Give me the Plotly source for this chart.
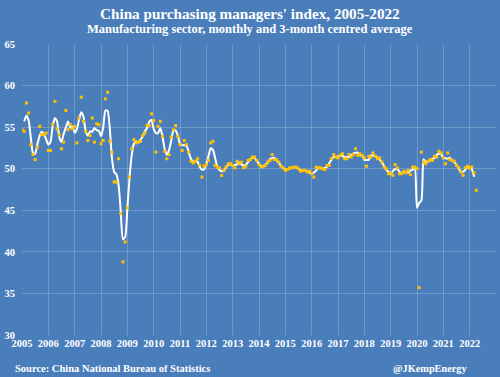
import numpy as np
import pandas as pd
import plotly.graph_objects as go

years = list(range(2005, 2023))
pmi_2005 = [54.7, 54.5, 57.9, 56.7, 52.9, 51.7, 51.1, 52.6, 55.1, 54.1, 54.1, 54.3]
pmi_2006 = [52.2, 52.2, 55.3, 58.1, 54.8, 54.1, 52.4, 53.2, 57.0, 54.7, 55.3, 54.8]
pmi_2007 = [55.1, 53.1, 56.1, 58.6, 55.7, 54.5, 53.4, 54.0, 56.1, 53.2, 55.4, 55.3]
pmi_2008 = [53.0, 53.4, 58.4, 59.2, 53.3, 52.0, 48.4, 48.4, 51.2, 44.6, 38.8, 41.2]
pmi_2009 = [45.3, 49.0, 52.4, 53.5, 53.1, 53.2, 53.3, 54.0, 54.3, 55.2, 55.2, 56.6]
pmi_2010 = [55.8, 52.0, 55.1, 55.7, 53.9, 52.1, 51.2, 51.7, 53.8, 54.7, 55.2, 53.9]
pmi_2011 = [52.9, 52.2, 53.4, 52.9, 52.0, 50.9, 50.7, 50.9, 51.2, 50.4, 49.0, 50.3]
pmi_2012 = [50.5, 51.0, 53.1, 53.3, 50.4, 50.2, 50.1, 49.2, 49.8, 50.2, 50.6, 50.6]
pmi_2013 = [50.4, 50.1, 50.9, 50.6, 50.8, 50.1, 50.3, 51.0, 51.1, 51.4, 51.4, 51.0]
pmi_2014 = [50.5, 50.2, 50.3, 50.4, 50.8, 51.0, 51.7, 51.1, 51.1, 50.8, 50.3, 50.1]
pmi_2015 = [49.8, 49.9, 50.1, 50.1, 50.2, 50.2, 50.0, 49.7, 49.8, 49.8, 49.6, 49.7]
pmi_2016 = [49.4, 49.0, 50.2, 50.1, 50.1, 50.0, 49.9, 50.4, 50.4, 51.2, 51.7, 51.4]
pmi_2017 = [51.3, 51.6, 51.8, 51.2, 51.2, 51.7, 51.4, 51.7, 52.4, 51.6, 51.8, 51.6]
pmi_2018 = [51.3, 50.3, 51.5, 51.4, 51.9, 51.5, 51.2, 51.3, 50.8, 50.2, 50.0, 49.4]
pmi_2019 = [49.5, 49.2, 50.5, 50.1, 49.4, 49.4, 49.7, 49.5, 49.8, 49.3, 50.2, 50.2]
pmi_2020 = [50.0, 35.7, 52.0, 50.8, 50.6, 50.9, 51.1, 51.0, 51.5, 51.4, 52.1, 51.9]
pmi_2021 = [51.3, 50.6, 51.9, 51.1, 51.0, 50.9, 50.4, 50.1, 49.6, 49.2, 50.1, 50.3]
pmi_2022 = [50.1, 50.2, 49.5, 47.4]

pmi = (pmi_2005 + pmi_2006 + pmi_2007 + pmi_2008 + pmi_2009 + pmi_2010 +
       pmi_2011 + pmi_2012 + pmi_2013 + pmi_2014 + pmi_2015 + pmi_2016 +
       pmi_2017 + pmi_2018 + pmi_2019 + pmi_2020 + pmi_2021 + pmi_2022)

x = [2005 + i / 12 for i in range(len(pmi))]
avg3 = pd.Series(pmi).rolling(3, center=True).mean()

y_ticks = [30, 35, 40, 45, 50, 55, 60, 65]
x_tickvals = list(range(2005, 2024))
x_ticktext = [str(y) for y in years] + [""]

BG = "#4a7ebb"
FONT = "Liberation Serif"

fig = go.Figure()
fig.add_trace(go.Scatter(x=x, y=avg3, mode="lines",
                         line=dict(color="white", width=2, shape="spline", smoothing=0.6),
                         hoverinfo="skip", showlegend=False))
fig.add_trace(go.Scatter(x=x, y=pmi, mode="markers",
                         marker=dict(color="#ffc000", size=3, symbol="square"),
                         showlegend=False))

fig.update_layout(
    width=500, height=377, autosize=False,
    paper_bgcolor=BG, plot_bgcolor=BG,
    margin=dict(l=22, r=4, t=44, b=42),
    font=dict(family=FONT, color="white"),
    xaxis=dict(range=[2005, 2023], tickvals=x_tickvals, ticktext=x_ticktext,
               showgrid=True, gridcolor="rgba(255,255,255,0.2)", gridwidth=1,
               zeroline=False, showline=False,
               tickfont=dict(family=FONT, size=10.5, color="white", weight="bold")),
    yaxis=dict(range=[30, 65], tickvals=y_ticks,
               showgrid=True, gridcolor="rgba(255,255,255,0.2)", gridwidth=1,
               zeroline=False, showline=False, ticklabelstandoff=6,
               tickfont=dict(family=FONT, size=10.5, color="white", weight="bold")),
    annotations=[
        dict(text="<b>China purchasing managers' index, 2005-2022</b>",
             xref="paper", yref="paper", x=0.4813, y=1.1065, showarrow=False,
             xanchor="center", yanchor="middle", font=dict(family=FONT, size=15.2, color="white")),
        dict(text="<b>Manufacturing sector, monthly and 3-month centred average</b>",
             xref="paper", yref="paper", x=0.4813, y=1.0515, showarrow=False,
             xanchor="center", yanchor="middle", font=dict(family=FONT, size=12.5, color="white")),
        dict(text="<b>Source: China National Bureau of Statistics</b>",
             xref="paper", yref="paper", x=-0.0183, y=-0.1168, showarrow=False,
             xanchor="left", yanchor="middle", font=dict(family=FONT, size=10.5, color="white")),
        dict(text="<b>@JKempEnergy</b>",
             xref="paper", yref="paper", x=0.943, y=-0.1168, showarrow=False,
             xanchor="right", yanchor="middle", font=dict(family=FONT, size=10.3, color="white")),
    ],
)

fig.write_html("out.html", config={"displayModeBar": False},
               post_script="document.body.style.margin='0px';document.body.style.background='" + BG + "';")
